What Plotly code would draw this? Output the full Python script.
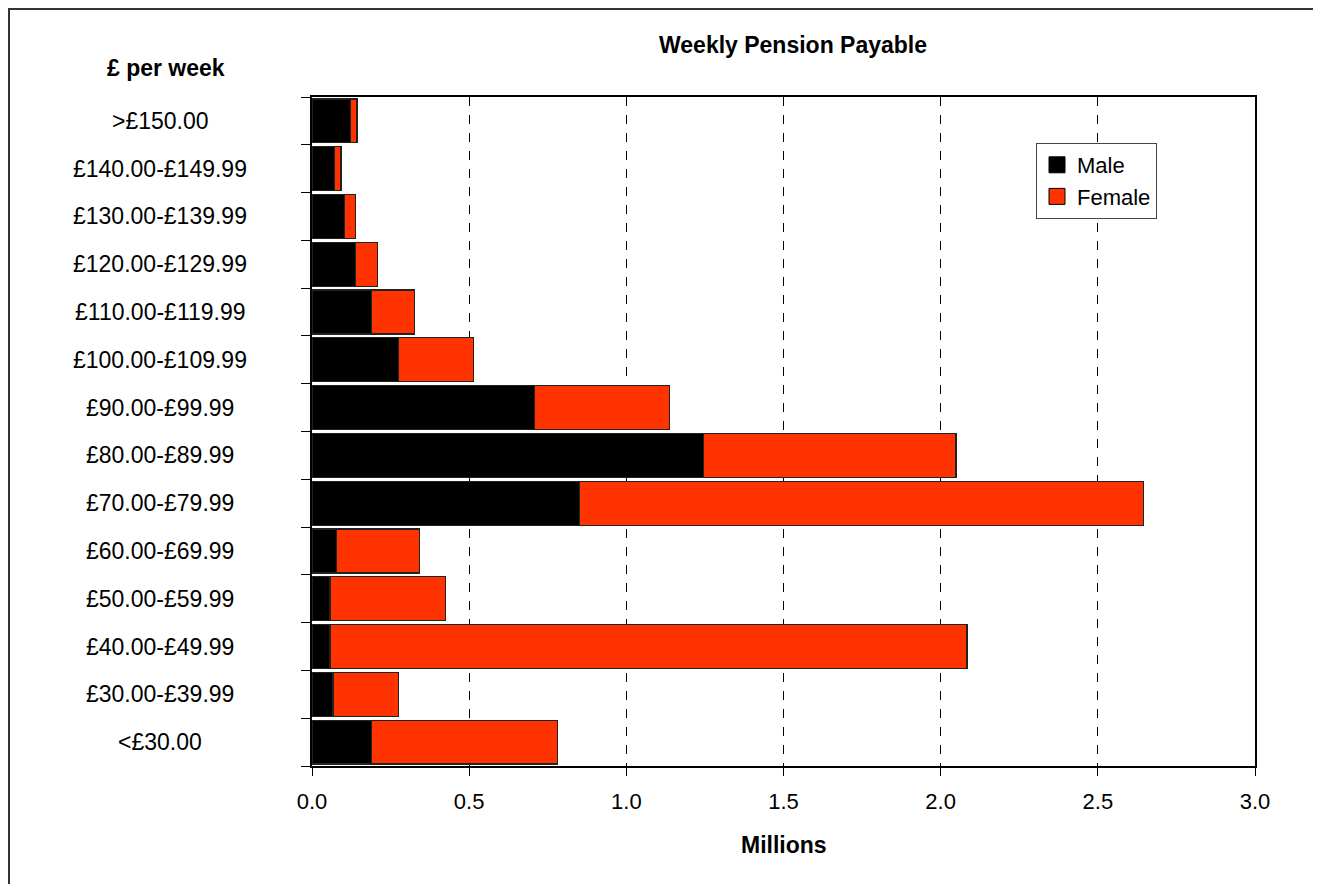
import plotly.graph_objects as go

categories = ["<£30.00", "£30.00-£39.99", "£40.00-£49.99", "£50.00-£59.99", "£60.00-£69.99",
              "£70.00-£79.99", "£80.00-£89.99", "£90.00-£99.99", "£100.00-£109.99",
              "£110.00-£119.99", "£120.00-£129.99", "£130.00-£139.99", "£140.00-£149.99",
              ">£150.00"]
male = [0.189, 0.067, 0.057, 0.057, 0.077, 0.852, 1.246, 0.709, 0.276, 0.189, 0.139, 0.103, 0.072, 0.123]
total = [0.780, 0.275, 2.084, 0.424, 0.342, 2.644, 2.049, 1.137, 0.514, 0.327, 0.209, 0.138, 0.092, 0.143]
female = [round(t - m, 3) for t, m in zip(total, male)]
x_ticks = [0.0, 0.5, 1.0, 1.5, 2.0, 2.5, 3.0]

FONT = "Liberation Sans, Arial, sans-serif"
RED = "#FF3300"

OFF = 8  # page body margin
W, H = 1321 - OFF, 884 - OFF
# plot area in reference page pixels: x 312..1255, y 97..766
L, R, T, B = 312 - OFF, 1321 - 1255, 97 - OFF, 884 - 766
pw, ph = W - L - R, H - T - B

def px_x(p):
    return (p - OFF - L) / pw

def px_y(p):
    return (H - B - (p - OFF)) / ph

fig = go.Figure()
fig.add_trace(go.Bar(y=categories, x=male, orientation="h", name="Male",
                     marker=dict(color="black", line=dict(color="#222222", width=1.2)),
                     showlegend=False))
fig.add_trace(go.Bar(y=categories, x=female, orientation="h", name="Female",
                     marker=dict(color=RED, line=dict(color="#222222", width=1.2)),
                     showlegend=False))
# legend entries
fig.add_trace(go.Scatter(x=[None], y=[None], mode="markers", name="Male",
                         marker=dict(symbol="square", size=17, color="black",
                                     line=dict(color="black", width=1))))
fig.add_trace(go.Scatter(x=[None], y=[None], mode="markers", name="Female",
                         marker=dict(symbol="square", size=17, color=RED,
                                     line=dict(color="black", width=1))))

annotations = []
for c in categories:
    annotations.append(dict(x=px_x(160), xref="paper", y=c, yref="y", text=c,
                            showarrow=False, xanchor="center", yanchor="middle",
                            font=dict(family=FONT, size=23, color="black")))
annotations.append(dict(x=px_x(793), y=px_y(45), xref="paper", yref="paper",
                        text="<b>Weekly Pension Payable</b>", showarrow=False,
                        xanchor="center", yanchor="middle",
                        font=dict(family=FONT, size=23, color="black")))
annotations.append(dict(x=px_x(166), y=px_y(68), xref="paper", yref="paper",
                        text="<b>£ per week</b>", showarrow=False,
                        xanchor="center", yanchor="middle",
                        font=dict(family=FONT, size=23, color="black")))
annotations.append(dict(x=px_x(784), y=px_y(845), xref="paper", yref="paper",
                        text="<b>Millions</b>", showarrow=False,
                        xanchor="center", yanchor="middle",
                        font=dict(family=FONT, size=23, color="black")))

shapes = [dict(type="rect", xref="paper", yref="paper",
               x0=px_x(9), x1=px_x(1316), y0=px_y(900), y1=px_y(9),
               line=dict(color="#333333", width=2), fillcolor="rgba(0,0,0,0)", layer="below")]

fig.update_layout(
    width=W, height=H,
    margin=dict(l=L, r=R, t=T, b=B, autoexpand=False),
    paper_bgcolor="white", plot_bgcolor="white",
    barmode="stack", bargap=0.08,
    font=dict(family=FONT, size=22, color="black"),
    showlegend=True,
    legend=dict(x=px_x(1036), y=px_y(143), xanchor="left", yanchor="top",
                bgcolor="white", bordercolor="#444444", borderwidth=1,
                traceorder="normal",
                font=dict(family=FONT, size=22, color="black"),
                itemwidth=30, tracegroupgap=0),
    annotations=annotations,
    shapes=shapes,
    xaxis=dict(range=[0, 3], tickvals=x_ticks, ticktext=[f"{v:.1f}" for v in x_ticks],
               showgrid=True, gridcolor="black", griddash="dash", gridwidth=1,
               showline=True, linecolor="black", linewidth=1.5, mirror=True,
               ticks="outside", ticklen=8, tickcolor="black", ticklabelstandoff=7,
               tickfont=dict(family=FONT, size=22), zeroline=False, fixedrange=True),
    yaxis=dict(categoryorder="array", categoryarray=categories,
               showticklabels=False, showgrid=False,
               showline=True, linecolor="black", linewidth=1.5, mirror=True,
               ticks="outside", ticklen=9, tickcolor="black", tickson="boundaries",
               range=[-0.5, len(categories) - 0.5], fixedrange=True),
)

fig.write_html("out.html")
